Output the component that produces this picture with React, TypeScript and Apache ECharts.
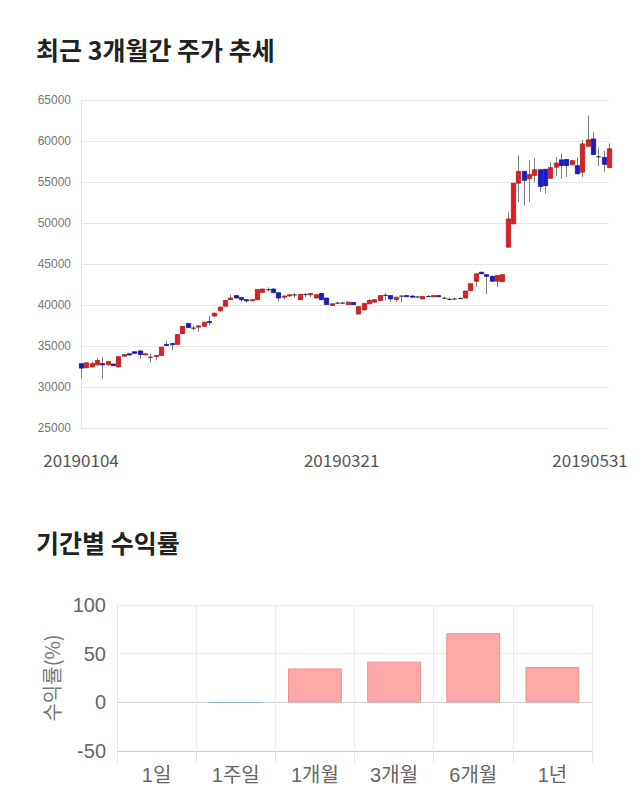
import React, { useEffect, useRef } from "react";
import * as echarts from "echarts";

// ---- Data ----
const dates: string[] = (
  "20190104 20190107 20190108 20190109 20190110 20190111 20190114 20190115 20190116 20190117 " +
  "20190118 20190121 20190122 20190123 20190124 20190125 20190128 20190129 20190130 20190131 " +
  "20190201 20190207 20190208 20190211 20190212 20190213 20190214 20190215 20190218 20190219 " +
  "20190220 20190221 20190222 20190225 20190226 20190227 20190228 20190304 20190305 20190306 " +
  "20190307 20190308 20190311 20190312 20190313 20190314 20190315 20190318 20190319 20190320 " +
  "20190321 20190322 20190325 20190326 20190327 20190328 20190329 20190401 20190402 20190403 " +
  "20190404 20190405 20190408 20190409 20190410 20190411 20190412 20190415 20190416 20190417 " +
  "20190418 20190419 20190422 20190423 20190424 20190425 20190426 20190429 20190430 20190502 " +
  "20190503 20190507 20190508 20190509 20190510 20190513 20190514 20190515 20190516 20190517 " +
  "20190520 20190521 20190522 20190523 20190524 20190527 20190528 20190529 20190530 20190531"
).split(" ");

const opens = [
  32850, 32350, 32450, 32700, 32850, 32700, 32800, 32450, 33750, 34050,
  34300, 34400, 33950, 33700, 33700, 33850, 35200, 35300, 35200, 36500,
  37750, 37250, 37400, 37400, 38000, 38650, 39300, 39850, 40650, 41150,
  40900, 40650, 40550, 40650, 41550, 41950, 41950, 41500, 40950, 41100,
  41300, 40650, 41350, 41250, 40850, 41400, 40850, 39950, 40300, 40300,
  40050, 40300, 38900, 39400, 40150, 40350, 40550, 41250, 41150, 40650,
  41150, 41150, 41100, 41050, 40750, 41100, 41000, 41150, 40900, 40750,
  40800, 40850, 40850, 41750, 42900, 44000, 43700, 43500, 42900, 42850,
  47050, 49900, 54850, 56300, 55400, 55800, 56500, 56550, 55450, 56800,
  57700, 57750, 57100, 57000, 56200, 59350, 60250, 58150, 58000, 56750,
];
const closes = [
  32300, 32950, 32850, 33250, 32700, 33100, 32600, 33700, 33950, 33900,
  34100, 33950, 34050, 33700, 33850, 34850, 35050, 35150, 36400, 37400,
  37250, 37250, 37450, 37900, 37850, 39000, 39750, 40550, 40850, 40850,
  40650, 40550, 40650, 41900, 41950, 41950, 41500, 40850, 41100, 41250,
  41300, 41300, 41350, 41400, 41250, 40650, 40050, 40150, 40300, 40300,
  40350, 40050, 39800, 40200, 40550, 40650, 41150, 41250, 40750, 40950,
  41150, 41050, 41000, 41050, 41050, 41100, 41150, 41050, 40900, 40750,
  40800, 40850, 41700, 42600, 43800, 43800, 43500, 42900, 43600, 43700,
  50500, 54850, 56300, 55200, 55900, 56500, 54450, 54550, 56750, 57300,
  57000, 57000, 57600, 56000, 59650, 60150, 58350, 58150, 57150, 59050,
];
const lows = [
  31100, 32300, 32400, 32650, 31000, 32650, 32550, 32400, 33700, 33850,
  34050, 33450, 33900, 33000, 33250, 33800, 35000, 34450, 35150, 36450,
  37200, 36900, 36700, 37350, 37500, 38500, 39150, 39800, 40600, 40800,
  40400, 40300, 40500, 40600, 41500, 41650, 41450, 40450, 40650, 41000,
  40900, 40600, 40950, 40950, 40800, 40600, 40000, 39900, 40200, 40100,
  40000, 40000, 38850, 39350, 40100, 40300, 40500, 40550, 40400, 40400,
  40350, 41000, 40900, 40900, 40700, 41000, 40950, 41000, 40800, 40650,
  40700, 40750, 40800, 41700, 42250, 43750, 41350, 42850, 42200, 42800,
  47000, 49850, 52550, 52150, 52550, 54950, 53800, 53600, 55400, 55750,
  55400, 55600, 57050, 55950, 55600, 59300, 58300, 56950, 56250, 56700,
];
const highs = [
  32900, 33000, 33100, 33500, 33650, 33200, 32850, 33750, 34000, 34100,
  34350, 34450, 34100, 34050, 33900, 34900, 35600, 35350, 36450, 37450,
  37800, 37500, 37500, 37950, 38700, 39050, 39800, 40600, 41250, 41200,
  40950, 40700, 40700, 41950, 42000, 42150, 42050, 41550, 41150, 41300,
  41450, 41350, 41450, 41450, 41350, 41450, 40900, 40200, 40400, 40400,
  40400, 40350, 39850, 40250, 40700, 40700, 41200, 41450, 41200, 41000,
  41200, 41200, 41150, 41100, 41100, 41200, 41200, 41200, 41000, 40900,
  40900, 40950, 41750, 42650, 43850, 44050, 43750, 43550, 43650, 43750,
  51300, 54900, 58250, 56350, 57650, 57950, 56550, 56600, 57400, 58050,
  58500, 57800, 57650, 58000, 60150, 63100, 61100, 59250, 58800, 59700,
];
const dateTickLabels = ["20190104", "20190321", "20190531"];

const periods = ["1일", "1주일", "1개월", "3개월", "6개월", "1년"];
const returns = [0, -0.4, 34.8, 41.8, 71, 36.2];

const CJK = "'Noto Sans CJK KR', 'Noto Sans', sans-serif";
const ARIAL = "'Liberation Sans', 'Noto Sans CJK KR', sans-serif";

export default function App() {
  const ref = useRef<HTMLDivElement>(null);
  useEffect(() => {
    if (!ref.current) return;
    const chart = echarts.init(ref.current, null, { renderer: "svg" });
    const candleData = dates.map((d, i) => [i, opens[i], closes[i], lows[i], highs[i]]);
    const option: any = {
      animation: false,
      backgroundColor: "#fff",
      title: [
        {
          text: "최근 3개월간 주가 추세",
          left: 31,
          top: 31,
          textStyle: { fontSize: 25, fontWeight: "bold", color: "#222", fontFamily: CJK },
        },
        {
          text: "기간별 수익률",
          left: 31,
          top: 524,
          textStyle: { fontSize: 25, fontWeight: "bold", color: "#222", fontFamily: CJK },
        },
      ],
      grid: [
        { left: 81, right: 31, top: 100, bottom: 382 },
        { left: 117, right: 48, top: 605, bottom: 59 },
      ],
      xAxis: [
        {
          gridIndex: 0,
          type: "category",
          data: dates,
          boundaryGap: false,
          axisLine: { show: false },
          axisTick: { show: false },
          splitLine: { show: false },
          axisLabel: {
            interval: (idx: number, v: string) => dateTickLabels.includes(v),
            margin: 23,
            fontSize: 17,
            color: "#555",
            fontFamily: CJK,
            formatter: (v: string) =>
              v === dateTickLabels[2] ? `{r|${v}}` : v === dateTickLabels[1] ? `{m|${v}}` : v,
            rich: {
              r: { fontSize: 17, color: "#555", fontFamily: CJK, padding: [0, 38, 0, 0] },
              m: { fontSize: 17, color: "#555", fontFamily: CJK, padding: [0, 12, 0, 0] },
            },
          },
        },
        {
          gridIndex: 1,
          type: "category",
          data: periods,
          boundaryGap: true,
          axisLine: { show: true, onZero: false, lineStyle: { color: "#ccc" } },
          axisTick: { show: true, length: 12, lineStyle: { color: "#e6e6e6" } },
          splitLine: { show: true, lineStyle: { color: "#ececec" } },
          axisLabel: { margin: 14, fontSize: 20, color: "#666", fontFamily: ARIAL },
        },
      ],
      yAxis: [
        {
          gridIndex: 0,
          type: "value",
          min: 25000,
          max: 65000,
          interval: 5000,
          axisLine: { show: true, lineStyle: { color: "#e3e3e3" } },
          axisTick: { show: false },
          splitLine: { lineStyle: { color: "#e6e6e6" } },
          axisLabel: {
            fontSize: 12,
            color: "#777",
            margin: 10,
            fontFamily: ARIAL,
            formatter: (v: number) => String(v),
          },
        },
        {
          gridIndex: 1,
          type: "value",
          min: -50,
          max: 100,
          interval: 50,
          name: "수익률(%)",
          nameLocation: "middle",
          nameRotate: 90,
          nameGap: 56,
          nameTextStyle: { fontSize: 20, color: "#777", fontFamily: CJK },
          axisLine: { show: true, lineStyle: { color: "#e3e3e3" } },
          axisTick: { show: false },
          splitLine: { lineStyle: { color: ["#ccc", "#d0d0d0", "#ececec", "#ececec"] } },
          axisLabel: { fontSize: 20, color: "#666", margin: 11, fontFamily: ARIAL },
        },
      ],
      series: [
        {
          type: "custom",
          xAxisIndex: 0,
          yAxisIndex: 0,
          data: candleData,
          encode: { x: 0, y: [1, 2, 3, 4] },
          clip: false,
          renderItem: (params: any, api: any) => {
            const idx = api.value(0);
            const o = api.value(1);
            const c = api.value(2);
            const l = api.value(3);
            const h = api.value(4);
            const pO = api.coord([idx, o]);
            const pC = api.coord([idx, c]);
            const pL = api.coord([idx, l]);
            const pH = api.coord([idx, h]);
            const w = api.size([1, 0])[0] * 0.82;
            const cx = Math.round(pO[0]) + 0.5;
            const top = Math.min(pO[1], pC[1]);
            const hgt = Math.max(Math.abs(pO[1] - pC[1]), 1.2);
            const flat = o === c;
            const up = c > o;
            const fill = flat ? "#333" : up ? "#dd1f1f" : "#1a1acc";
            const stroke = flat ? "#333" : up ? "#a51515" : "#10108a";
            return {
              type: "group",
              children: [
                {
                  type: "line",
                  shape: { x1: cx, y1: pH[1], x2: cx, y2: pL[1] },
                  style: { stroke: "#808080", lineWidth: 1 },
                },
                {
                  type: "rect",
                  shape: { x: cx - w / 2, y: top, width: w, height: hgt },
                  style: { fill, stroke, lineWidth: flat ? 0 : 0.7 },
                },
              ],
            };
          },
        },
        {
          type: "bar",
          xAxisIndex: 1,
          yAxisIndex: 1,
          data: returns.map((v) => ({
            value: v,
            itemStyle:
              v > 0
                ? { color: "#ffa8a8", borderColor: "#ec9090", borderWidth: 1 }
                : v < 0
                ? { color: "#a9cde0", borderColor: "#8fb8cc", borderWidth: 1 }
                : { color: "transparent", borderWidth: 0 },
          })),
          barWidth: "68%",
        },
      ],
    };
    chart.setOption(option);
    return () => chart.dispose();
  }, []);
  return (
    <div
      ref={ref}
      style={{ position: "absolute", left: 0, top: 0, width: 640, height: 810, background: "#fff" }}
    />
  );
}
